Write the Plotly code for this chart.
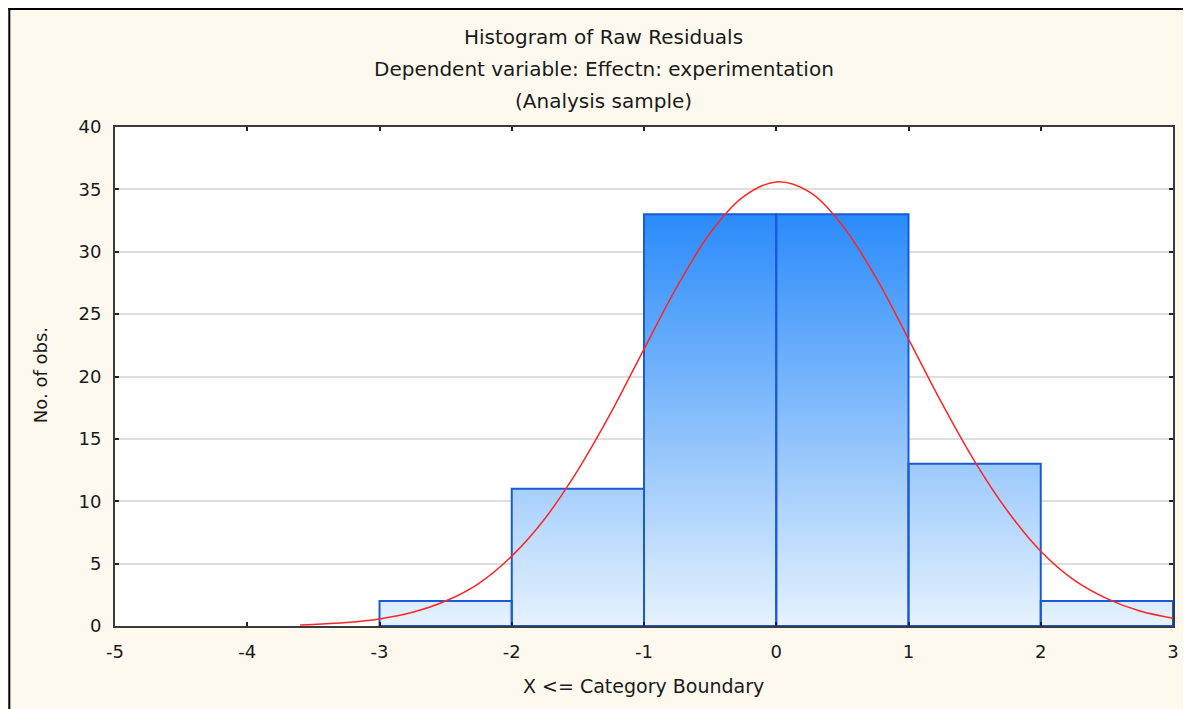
import plotly.graph_objects as go

# ---- data ----
bin_left = [-3, -2, -1, 0, 1, 2]
bin_width = 1
counts = [2, 11, 33, 33, 13, 2]

curve_x = [-3.6, -3.5, -3.25, -3.0, -2.75, -2.5, -2.25, -2.0, -1.75, -1.5, -1.25,
           -1.0, -0.75, -0.5, -0.25, 0.0, 0.25, 0.5, 0.75, 1.0, 1.25, 1.5, 1.75,
           2.0, 2.25, 2.5, 2.75, 3.0]
curve_y = [0.09, 0.13, 0.28, 0.57, 1.1, 2.0, 3.4, 5.6, 8.6, 12.5, 17.1,
           22.2, 27.2, 31.5, 34.4, 35.6, 34.8, 32.1, 28.0, 23.0, 17.9, 13.2, 9.2,
           6.0, 3.7, 2.2, 1.2, 0.63]

x_ticks = [-5, -4, -3, -2, -1, 0, 1, 2, 3]
y_ticks = [0, 5, 10, 15, 20, 25, 30, 35, 40]

title_lines = ["Histogram of Raw Residuals",
               "Dependent variable: Effectn: experimentation",
               "(Analysis sample)"]
x_title = "X <= Category Boundary"
y_title = "No. of obs."

# ---- build bar polygons ----
bx, by = [], []
for left, c in zip(bin_left, counts):
    right = left + bin_width
    bx += [left, left, right, right, left, None]
    by += [0, c, c, 0, 0, None]

# page has an 8px body margin; work in screen pixels and convert
OFF = 8
W, H = 1183, 701
ML, MR, MT, MB = 107, 15, 119, 83
PW, PH = W - ML - MR, H - MT - MB

def px(xscreen):
    return (xscreen - OFF - ML) / PW

def py(yscreen):
    return (H - MB - (yscreen - OFF)) / PH

FONT = "DejaVu Sans"
TXT = "#1a1a1a"

fig = go.Figure()
fig.add_trace(go.Scatter(
    x=bx, y=by, mode="lines", fill="toself",
    fillgradient=dict(type="vertical",
                      colorscale=[[0, "#e6f2fe"], [1, "#2a8bfb"]],
                      start=0, stop=max(counts)),
    line=dict(color="#1a5ad6", width=2),
    hoverinfo="skip", showlegend=False))
fig.add_trace(go.Scatter(
    x=curve_x, y=curve_y, mode="lines",
    line=dict(color="#ff2424", width=1.5, shape="spline"),
    showlegend=False))

annotations = []
for i, t in enumerate(title_lines):
    annotations.append(dict(text=t, xref="paper", yref="paper",
                            x=px(605), y=py(37 + 32 * i), showarrow=False,
                            xanchor="center", yanchor="middle",
                            font=dict(family=FONT, size=20, color=TXT)))
annotations.append(dict(text=x_title, xref="paper", yref="paper",
                        x=px(645), y=py(686), showarrow=False,
                        xanchor="center", yanchor="middle",
                        font=dict(family=FONT, size=19, color=TXT)))
annotations.append(dict(text=y_title, xref="paper", yref="paper",
                        x=px(40), y=py(375), showarrow=False, textangle=-90,
                        xanchor="center", yanchor="middle",
                        font=dict(family=FONT, size=18, color=TXT)))

shapes = [
    dict(type="line", xref="paper", yref="paper", x0=px(9), x1=px(9), y0=-0.3, y1=py(8),
         line=dict(color="black", width=2)),
    dict(type="line", xref="paper", yref="paper", x0=px(8), x1=1.2, y0=py(9), y1=py(9),
         line=dict(color="black", width=2)),
]

fig.update_layout(
    width=W, height=H,
    margin=dict(l=ML, r=MR, t=MT, b=MB),
    paper_bgcolor="#fef9ee", plot_bgcolor="white",
    annotations=annotations, shapes=shapes,
    font=dict(family=FONT, size=18, color=TXT),
)
fig.update_xaxes(range=[-5, 3], tickvals=x_ticks, ticktext=[str(v) for v in x_ticks],
                 showgrid=False, zeroline=False,
                 showline=True, linecolor="#3a3a3a", linewidth=2, mirror="allticks",
                 ticks="inside", ticklen=4, tickcolor="#222", tickwidth=2,
                 ticklabelstandoff=8,
                 tickfont=dict(family=FONT, size=18, color=TXT))
fig.update_yaxes(range=[0, 40], tickvals=y_ticks, ticktext=[str(v) for v in y_ticks],
                 showgrid=True, gridcolor="#dedede", gridwidth=2, zeroline=False,
                 showline=True, linecolor="#3a3a3a", linewidth=2, mirror="allticks",
                 ticks="inside", ticklen=4, tickcolor="#222", tickwidth=2,
                 ticklabelstandoff=8,
                 tickfont=dict(family=FONT, size=18, color=TXT))

fig.write_html("out.html")
